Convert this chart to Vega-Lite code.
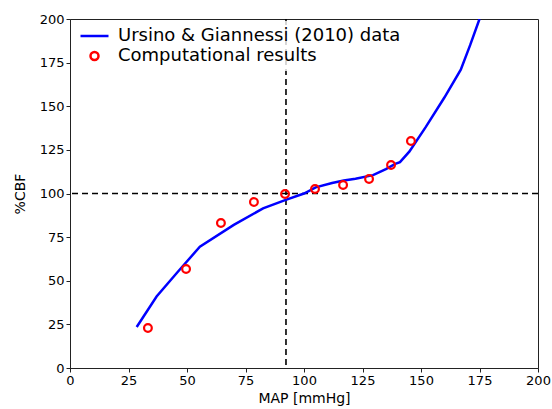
{
  "$schema": "https://vega.github.io/schema/vega-lite/v6.json",
  "width": 468,
  "height": 349,
  "autosize": "none",
  "padding": {"left": 70, "top": 19, "right": 14, "bottom": 41},
  "config": {
    "font": "DejaVu Sans",
    "view": {"stroke": "#222", "strokeWidth": 1},
    "axis": {
      "grid": false, "domainColor": "#222", "tickColor": "#222", "tickSize": 4, "labelFlush": false,
      "labelFontSize": 13, "labelColor": "#000", "titleFontSize": 14, "titleFontWeight": "normal", "titleColor": "#000", "labelPadding": 2, "labelFont": "DejaVu Sans", "titleFont": "DejaVu Sans"
    }
  },
  "datasets": {
    "curve": [
      {"map": 28.5, "cbf": 23.5}, {"map": 37, "cbf": 41}, {"map": 46, "cbf": 55}, {"map": 55.5, "cbf": 69.5},
      {"map": 70, "cbf": 82}, {"map": 82.5, "cbf": 91.5}, {"map": 92.5, "cbf": 96.5}, {"map": 100, "cbf": 100},
      {"map": 105, "cbf": 103.5}, {"map": 112, "cbf": 106}, {"map": 117, "cbf": 107.5}, {"map": 122, "cbf": 108.5},
      {"map": 129.5, "cbf": 110.5}, {"map": 135, "cbf": 114}, {"map": 139, "cbf": 117}, {"map": 141, "cbf": 118},
      {"map": 145, "cbf": 124}, {"map": 152, "cbf": 138}, {"map": 160, "cbf": 155}, {"map": 167, "cbf": 171},
      {"map": 171, "cbf": 185}, {"map": 175, "cbf": 200}
    ],
    "sim": [
      {"map": 33.3, "cbf": 22.9}, {"map": 49.6, "cbf": 56.7}, {"map": 64.5, "cbf": 83.1}, {"map": 78.6, "cbf": 95.1},
      {"map": 91.9, "cbf": 99.7}, {"map": 104.7, "cbf": 102.6}, {"map": 116.7, "cbf": 104.9}, {"map": 127.8, "cbf": 108.3},
      {"map": 137.2, "cbf": 116.3}, {"map": 145.7, "cbf": 130.1}
    ],
    "refs": [{"vx": 92.3, "hy": 100}]
  },
  "layer": [
    {
      "data": {"name": "refs"},
      "mark": {"type": "rule", "color": "#000", "strokeWidth": 1.6, "strokeDash": [6, 4]},
      "encoding": {"x": {"field": "vx", "type": "quantitative", "scale": {"domain": [0, 200]}}}
    },
    {
      "data": {"name": "refs"},
      "mark": {"type": "rule", "color": "#000", "strokeWidth": 1.6, "strokeDash": [6, 4]},
      "encoding": {"y": {"field": "hy", "type": "quantitative", "scale": {"domain": [0, 200]}}}
    },
    {
      "data": {"name": "curve"},
      "transform": [{"calculate": "'Ursino & Giannessi (2010) data'", "as": "series"}],
      "mark": {"type": "line", "strokeWidth": 2.5, "clip": true},
      "encoding": {
        "x": {"field": "map", "type": "quantitative", "scale": {"domain": [0, 200], "nice": false}, "axis": {"values": [0,25,50,75,100,125,150,175,200], "title": "MAP [mmHg]", "titlePadding": 4}},
        "y": {"field": "cbf", "type": "quantitative", "scale": {"domain": [0, 200], "nice": false}, "axis": {"values": [0,25,50,75,100,125,150,175,200], "title": "%CBF", "titlePadding": 12}},
        "color": {"field": "series", "type": "nominal", "scale": {"domain": ["Ursino & Giannessi (2010) data", "Computational results"], "range": ["#0000ff", "#ff0000"]},
          "legend": {"title": null, "orient": "none", "legendX": 9.5, "legendY": 2, "padding": 6, "fillColor": "rgba(255,255,255,0.8)", "labelFontSize": 18, "labelFont": "DejaVu Sans", "labelColor": "#000", "labelLimit": 400, "rowPadding": 2, "labelOffset": 14.5, "symbolStrokeWidth": 2.5, "symbolSize": 64}}
      }
    },
    {
      "data": {"name": "sim"},
      "transform": [{"calculate": "'Computational results'", "as": "series"}],
      "mark": {"type": "point", "filled": false, "strokeWidth": 2.2, "size": 60, "opacity": 1},
      "encoding": {
        "x": {"field": "map", "type": "quantitative"},
        "y": {"field": "cbf", "type": "quantitative"},
        "color": {"field": "series", "type": "nominal"},
        "shape": {"field": "series", "type": "nominal", "scale": {"domain": ["Ursino & Giannessi (2010) data", "Computational results"], "range": ["M-3.5,0H3.5", "circle"]}}
      }
    }
  ]
}
